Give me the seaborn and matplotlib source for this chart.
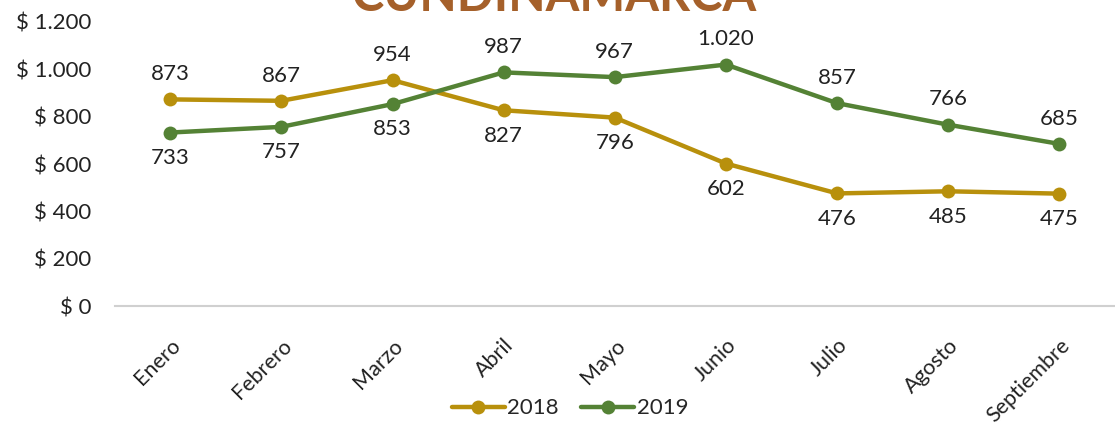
import numpy as np
import pandas as pd
import matplotlib
matplotlib.use("Agg")
import matplotlib.pyplot as plt
import seaborn as sns

### Data
MESES = ["Enero", "Febrero", "Marzo", "Abril", "Mayo", "Junio",
         "Julio", "Agosto", "Septiembre"]
V2018 = [873, 867, 954, 827, 796, 602, 476, 485, 475]
V2019 = [733, 757, 853, 987, 967, 1020, 857, 766, 685]
Y_TICKS = [0, 200, 400, 600, 800, 1000, 1200]
TITLE = "CUNDINAMARCA"

COLORS = {"2018": "#B8900C", "2019": "#548235"}

df = pd.concat([
    pd.DataFrame({"mes": MESES, "valor": V2018, "anio": "2018"}),
    pd.DataFrame({"mes": MESES, "valor": V2019, "anio": "2019"}),
], ignore_index=True)
df["x"] = df["mes"].map({m: i for i, m in enumerate(MESES)})


def fmt_miles(v):
    return f"{v:,.0f}".replace(",", ".")


sns.set_theme(style="white")
plt.rcParams["font.family"] = ["Lato", "DejaVu Sans"]

fig = plt.figure(figsize=(11.15, 4.3), dpi=100)
ax = fig.add_axes([0.1028, 0.288, 0.8972, 0.661])

sns.lineplot(data=df, x="x", y="valor", hue="anio", palette=COLORS,
             marker="o", markersize=10, markeredgewidth=0, linewidth=3.2,
             ax=ax, legend=True)

# data labels: the lower series at each month gets its label below
for i in range(len(MESES)):
    a, b = V2018[i], V2019[i]
    for v, other in [(a, b), (b, a)]:
        above = v >= other
        ax.annotate(fmt_miles(v), (i, v), xytext=(0, 11 if above else -11),
                    textcoords="offset points", ha="center",
                    va="bottom" if above else "top", fontsize=16, color="#222222")

ax.set_xlim(-0.5, len(MESES) - 0.5)
ax.set_ylim(0, 1200)
ax.set_yticks(Y_TICKS)
ax.set_yticklabels([f"$ {fmt_miles(t)}" for t in Y_TICKS], fontsize=16, color="#222222")
ax.set_xticks(range(len(MESES)))
ax.set_xticklabels(MESES, rotation=45, ha="right", rotation_mode="anchor",
                   fontsize=15.5, color="#222222")
ax.tick_params(axis="x", pad=15)
ax.tick_params(axis="y", pad=17, length=0)
ax.set_xlabel(""); ax.set_ylabel("")
for s in ["top", "right", "left"]:
    ax.spines[s].set_visible(False)
ax.spines["bottom"].set_color("#D0D0D0")
ax.spines["bottom"].set_linewidth(1.5)
ax.patch.set_alpha(0)

h, l = ax.get_legend_handles_labels()
ax.legend(h, l, loc="center", bbox_to_anchor=(0.455, -0.36), ncol=2, frameon=False,
          fontsize=16, handlelength=2.4, handletextpad=0.1, columnspacing=1.0)

fig.text(0.497, 0.975, TITLE, ha="center", va="baseline", fontsize=35,
         fontweight="bold", color="#A5602A")

fig.savefig("out.png", dpi=100)
